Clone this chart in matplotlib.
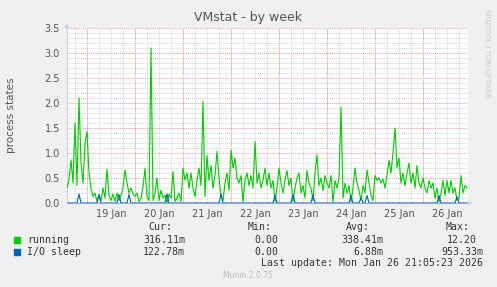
import matplotlib
matplotlib.use('Agg')
import matplotlib.pyplot as plt
import matplotlib.dates as mdates
from matplotlib.ticker import MultipleLocator
from datetime import datetime, timedelta
import numpy as np

# --- data: hourly samples starting 18 Jan 14:00 ---
start = datetime(2026, 1, 18, 14, 0)
running = [
    0.30, 0.46, 0.86, 0.40, 1.60, 0.35, 2.10, 0.80, 0.40, 1.20,
    1.43, 0.60, 0.30, 0.13, 0.20, 0.03, 0.16, 0.05, 0.30, 0.10,
    0.68, 0.15, 0.05, 0.18, 0.03, 0.20, 0.05, 0.15, 0.30, 0.66,
    0.40, 0.20, 0.30, 0.19, 0.13, 0.20, 0.03, 0.09, 0.33, 0.69,
    0.13, 0.05, 3.10, 0.05, 0.19, 0.50, 0.05, 0.26, 0.10, 0.16,
    0.00, 0.18, 0.10, 0.63, 0.03, 0.10, 0.20, 0.03, 0.70, 0.46,
    0.60, 0.30, 0.60, 0.30, 0.13, 0.45, 0.70, 0.35, 2.03, 0.13,
    0.95, 0.45, 0.75, 0.30, 0.55, 1.03, 0.50, 0.15, 0.05, 0.40,
    0.60, 0.25, 1.06, 0.70, 0.90, 0.50, 0.40, 0.55, 0.02, 0.45,
    0.60, 0.35, 0.55, 0.30, 1.23, 0.40, 0.60, 0.30, 0.45, 0.70,
    0.35, 0.60, 0.30, 0.45, 0.02, 0.30, 0.70, 0.40, 0.20, 0.45,
    0.65, 0.35, 0.50, 0.02, 0.30, 0.50, 0.60, 0.20, 0.35, 0.10,
    0.65, 0.40, 0.30, 0.05, 0.60, 0.96, 0.35, 0.50, 0.25, 0.55,
    0.40, 0.30, 0.55, 0.02, 0.45, 0.30, 0.50, 1.92, 0.10, 0.40,
    0.20, 0.35, 0.02, 0.30, 0.70, 0.40, 0.25, 0.05, 0.35, 0.20,
    0.66, 0.40, 0.15, 0.05, 0.55, 0.45, 0.50, 0.40, 0.48, 0.30,
    0.55, 0.85, 0.60, 1.00, 1.50, 0.70, 0.90, 0.40, 0.60, 0.35,
    0.60, 0.80, 0.40, 0.60, 0.30, 0.75, 0.40, 0.30, 0.50, 0.30,
    0.20, 0.45, 0.30, 0.40, 0.10, 0.30, 0.02, 0.20, 0.45, 0.15,
    0.45, 0.20, 0.45, 0.20, 0.30, 0.05, 0.10, 0.55, 0.20, 0.35,
    0.30,
]
# I/O sleep is zero except for a few short spikes (sample index -> value)
io_idx = [6, 16, 26, 31, 50, 77, 104, 113, 123, 142, 147, 150, 186, 195]
io_val = [0.18, 0.17, 0.17, 0.17, 0.18, 0.18, 0.16, 0.17, 0.16, 0.15, 0.10, 0.15, 0.15, 0.13]

days = [datetime(2026, 1, d) for d in range(19, 27)]

legend_rows = [
    ('running', '#00CC00', '316.11m', '0.00 ', '338.41m', '12.20 '),
    ('I/O sleep', '#0066B3', '122.78m', '0.00 ', '6.88m', '953.33m'),
]

W, H = 497, 287
def fx(px):
    return px / W
def fy(py):
    return 1 - py / H

fig = plt.figure(figsize=(W / 100, H / 100), dpi=100, facecolor='#F0F0F0')
ax = fig.add_axes([fx(67), fy(203), fx(468) - fx(67), fy(28) - fy(203)])
ax.set_facecolor('white')

times = [start + timedelta(hours=i) for i in range(len(running))]
io = np.zeros(len(running))
io[io_idx] = io_val

ax.plot(times, running, color='#00CC00', lw=0.8, zorder=3)
ax.plot(times, io, color='#0066B3', lw=0.8, zorder=4)

ax.set_xlim(start, start + timedelta(hours=200.5))
ax.set_ylim(0, 3.5)

# grid
dot = (0, (1, 1))
ax.xaxis.set_major_locator(mdates.HourLocator(byhour=12))
ax.xaxis.set_major_formatter(mdates.DateFormatter('%d %b'))
ax.xaxis.set_minor_locator(mdates.HourLocator(byhour=[0, 6, 12, 18]))
ax.xaxis.remove_overlapping_locs = False
ax.yaxis.set_major_locator(MultipleLocator(0.5))
ax.yaxis.set_minor_locator(MultipleLocator(0.1))
ax.yaxis.set_major_formatter(matplotlib.ticker.FormatStrFormatter('%.1f'))
ax.grid(which='minor', color='#D4D4D4', ls=dot, lw=0.7)
ax.grid(which='major', axis='y', color='#E8A0A0', ls=dot, lw=0.7)
ax.grid(which='major', axis='x', visible=False)
for d in days:
    ax.axvline(d, color='#E8A0A0', ls=dot, lw=0.7, zorder=1)
ax.set_axisbelow(True)

ax.tick_params(which='both', length=0, labelsize=7, colors='#555555')
ax.tick_params(axis='y', pad=5)
ax.tick_params(axis='x', pad=4.5)

for s in ['top', 'right']:
    ax.spines[s].set_visible(False)
ax.spines['left'].set_color('#CCD4F4')
ax.spines['bottom'].set_color('#9AA8DC')
ax.spines['left'].set_linewidth(0.8)
ax.spines['bottom'].set_linewidth(0.8)
ax.annotate('', xy=(0, 1 + 8 / 175), xytext=(0, 0.99), xycoords='axes fraction',
            arrowprops=dict(arrowstyle='-|>', color='#CCD4F4', lw=0.8, mutation_scale=7))
ax.annotate('', xy=(1 + 8 / 401, 0), xytext=(0.99, 0), xycoords='axes fraction',
            arrowprops=dict(arrowstyle='-|>', color='#CCD4F4', lw=0.8, mutation_scale=7))

# texts
fig.text(fx(248), fy(18), 'VMstat - by week', ha='center', va='center', fontsize=9, color='#555555')
fig.text(fx(11), fy(115), 'process states', rotation=90, ha='center', va='center',
         fontsize=7.5, color='#555555')
fig.text(fx(487), fy(53), 'RRDTOOL / TOBI OETIKER', rotation=270, ha='center', va='center',
         fontsize=5, color='#C8C8C8')

mono = dict(family='DejaVu Sans Mono', fontsize=7.1, color='#333333', va='center')
cols = [185, 284, 383, 483]
for x, h in zip(cols, ['Cur:', 'Min:', 'Avg:', 'Max:']):
    fig.text(fx(x - 13 if h != 'Min:' else x - 12), fy(227), h, ha='right', **mono)
for r, (name, col, cur, mn, avg, mx) in enumerate(legend_rows):
    y = 240 + 12 * r
    fig.patches.append(plt.Rectangle((fx(14), fy(y + 3)), fx(6), 6 / H, color=col,
                                     transform=fig.transFigure, figure=fig))
    fig.text(fx(27), fy(y), name, ha='left', **mono)
    for x, v in zip(cols, [cur, mn, avg, mx]):
        fig.text(fx(x), fy(y), v.rstrip(), ha='right', **mono) if v.endswith('m') else \
            fig.text(fx(x - 6), fy(y), v.rstrip(), ha='right', **mono)
fig.text(fx(483), fy(263.5), 'Last update: Mon Jan 26 21:05:23 2026', ha='right', **mono)
fig.text(fx(248), fy(276), 'Munin 2.0.75', ha='center', va='center', fontsize=5.5, color='#BBBBBB')

fig.savefig('out.png', dpi=100, facecolor=fig.get_facecolor())
